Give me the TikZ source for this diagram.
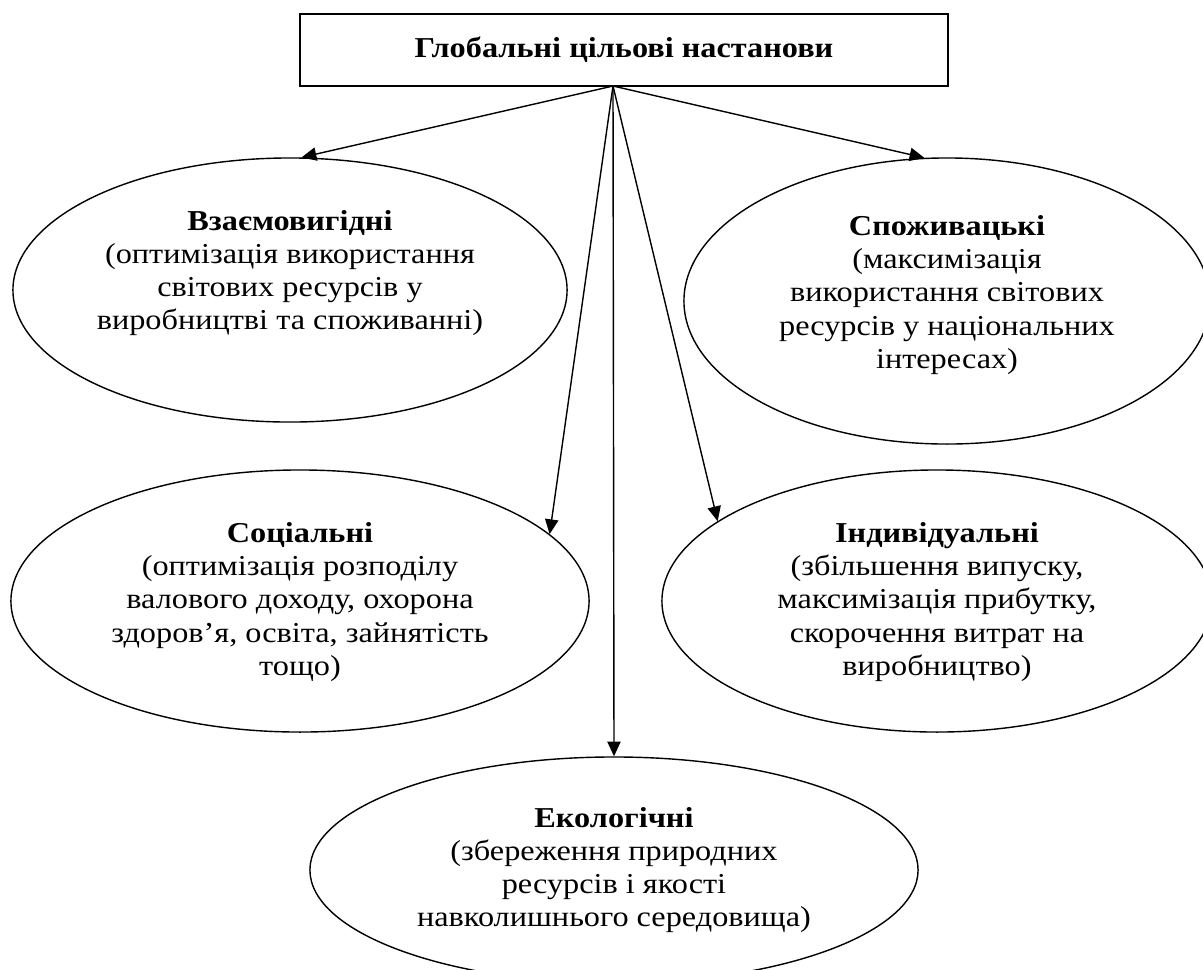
\documentclass[tikz,border=0pt]{standalone}
\usepackage{fontspec}
\setmainfont{Liberation Serif}[FakeStretch=1.12]
\usetikzlibrary{shapes.geometric,arrows.meta}

\begin{document}
\begin{tikzpicture}[x=0.025cm,y=-0.025cm,->,>={Triangle[length=10.5pt,width=9.5pt]},
  line width=1pt,
  head/.style={rectangle,draw,line width=1.4pt,minimum width=16.2cm,minimum height=1.8cm,
    font=\fontsize{20.5}{23.6}\selectfont\bfseries},
  goal/.style={ellipse,draw,line width=1pt,inner sep=0pt},
  caption/.style={align=center,inner sep=0pt,font=\fontsize{20.5}{23.6}\selectfont}]

  \clip (0,0) rectangle (1203,969);

  \node[head] (top) at (624,50) {Глобальні цільові настанови};
  \coordinate (org) at (613,86);

  \node[goal,minimum width=13.85cm,minimum height=6.6cm] (e1) at (290,290) {};
  \node[goal,minimum width=13.15cm,minimum height=7.15cm] (e2) at (947,301) {};
  \node[goal,minimum width=14.45cm,minimum height=6.55cm] (e3) at (300,601) {};
  \node[goal,minimum width=13.75cm,minimum height=6.55cm] (e4) at (937,601) {};
  \node[goal,minimum width=15.2cm,minimum height=5.65cm] (e5) at (614,870) {};

  \node[caption] (t1) at (290,273) {\textbf{Взаємовигідні}\\(оптимізація використання\\світових ресурсів у\\виробництві та споживанні)};
  \node[caption] (t2) at (947,295) {\textbf{Споживацькі}\\(максимізація\\використання світових\\ресурсів у національних\\інтересах)};
  \node[caption] (t3) at (300,602) {\textbf{Соціальні}\\(оптимізація розподілу\\валового доходу, охорона\\здоров’я, освіта, зайнятість\\тощо)};
  \node[caption] (t4) at (937,602) {\textbf{Індивідуальні}\\(збільшення випуску,\\максимізація прибутку,\\скорочення витрат на\\виробництво)};
  \node[caption] (t5) at (614,870) {\textbf{Екологічні}\\(збереження природних\\ресурсів і якості\\навколишнього середовища)};

  \draw (org) -- (e1.85);
  \draw (org) -- (e2.99);
  \draw (org) -- (e3.15);
  \draw (org) -- (e4.160);
  \draw (org) -- (e5.north);
\end{tikzpicture}
\end{document}
